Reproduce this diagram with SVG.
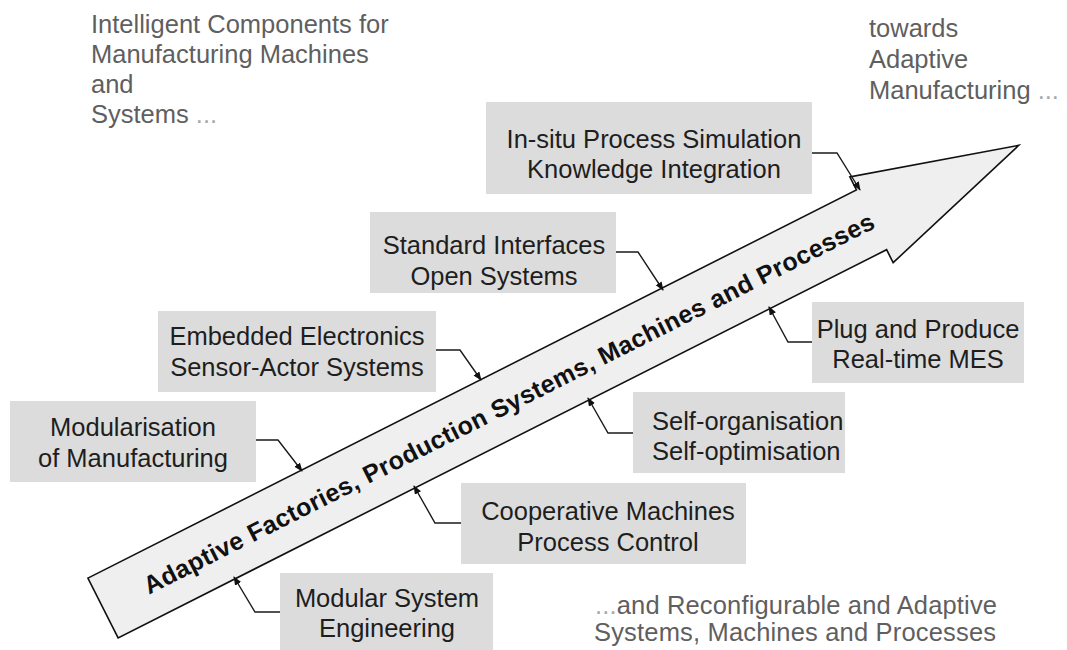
<svg xmlns="http://www.w3.org/2000/svg" width="1067" height="650" viewBox="0 0 1067 650">
<style>
.box{fill:#dcdcdc}
.bt{font-family:"Liberation Sans",Arial,sans-serif;font-size:25.5px;fill:#1e1e1e;text-anchor:middle}
.btl{font-family:"Liberation Sans",Arial,sans-serif;font-size:25.5px;fill:#1e1e1e}
.gt{font-family:"Liberation Sans",Arial,sans-serif;font-size:25.5px;fill:#5f5f5f}
.dots{fill:#a8a8a8}
.con{fill:none;stroke:#1a1a1a;stroke-width:1.4}
.arr{fill:#efefef;stroke:#111;stroke-width:1.6;stroke-linejoin:miter}
.at{font-family:"Liberation Sans",Arial,sans-serif;font-size:25px;font-weight:bold;fill:#111}
</style>
<defs>
<marker id="ah" markerUnits="userSpaceOnUse" markerWidth="10" markerHeight="8" refX="8" refY="3.5" orient="auto">
<path d="M0,0 L9,3.5 L0,7 z" fill="#111"/>
</marker>
</defs>
<rect width="1067" height="650" fill="#ffffff"/>

<g id="title-left">
<text class="gt" x="91" y="33">Intelligent Components for</text>
<text class="gt" x="91" y="63">Manufacturing Machines</text>
<text class="gt" x="91" y="93">and</text>
<text class="gt" x="91" y="123">Systems <tspan class="dots">...</tspan></text>
</g>

<g id="title-right">
<text class="gt" x="869" y="37">towards</text>
<text class="gt" x="869" y="68">Adaptive</text>
<text class="gt" x="869" y="99">Manufacturing <tspan class="dots">...</tspan></text>
</g>

<g id="title-bottom">
<text class="gt" x="595" y="614" textLength="402"><tspan class="dots">...</tspan>and Reconfigurable and Adaptive</text>
<text class="gt" x="594" y="641" textLength="402">Systems, Machines and Processes</text>
</g>

<g id="main-arrow" transform="translate(103,608) rotate(-26.8)">
<polygon class="arr" points="0,-33.5 861,-33.5 861,-48 1026,0 861,48 861,33.5 0,33.5"/>
<text class="at" x="47" y="9" textLength="815">Adaptive Factories, Production Systems, Machines and Processes</text>
</g>

<g id="connectors">
<polyline class="con" points="812,153 837,153 860,190" marker-end="url(#ah)"/>
<polyline class="con" points="616,252 638,252 663,290" marker-end="url(#ah)"/>
<polyline class="con" points="436,350 460,350 481,380" marker-end="url(#ah)"/>
<polyline class="con" points="256,440 278,440 302,471" marker-end="url(#ah)"/>
<polyline class="con" points="280,612 255,612 234,577" marker-end="url(#ah)"/>
<polyline class="con" points="461,523 435,523 414,486" marker-end="url(#ah)"/>
<polyline class="con" points="633,433 608,433 588,398" marker-end="url(#ah)"/>
<polyline class="con" points="812,342 788,342 769,307" marker-end="url(#ah)"/>
</g>

<g id="n-insitu">
<rect class="box" x="486" y="102" width="326" height="92"/>
<text class="bt" x="654" y="148">In-situ Process Simulation</text>
<text class="bt" x="654" y="178">Knowledge Integration</text>
</g>

<g id="n-standard">
<rect class="box" x="370" y="212" width="246" height="81"/>
<text class="bt" x="494" y="254">Standard Interfaces</text>
<text class="bt" x="494" y="285">Open Systems</text>
</g>

<g id="n-embedded">
<rect class="box" x="158" y="311" width="278" height="81"/>
<text class="bt" x="297" y="345">Embedded Electronics</text>
<text class="bt" x="297" y="376">Sensor-Actor Systems</text>
</g>

<g id="n-modularisation">
<rect class="box" x="10" y="401" width="246" height="81"/>
<text class="bt" x="133" y="436">Modularisation</text>
<text class="bt" x="133" y="467">of Manufacturing</text>
</g>

<g id="n-modular-system">
<rect class="box" x="280" y="573" width="213" height="80"/>
<text class="bt" x="387" y="607">Modular System</text>
<text class="bt" x="387" y="637">Engineering</text>
</g>

<g id="n-cooperative">
<rect class="box" x="461" y="483" width="285" height="81"/>
<text class="bt" x="608" y="520">Cooperative Machines</text>
<text class="bt" x="608" y="551">Process Control</text>
</g>

<g id="n-selforg">
<rect class="box" x="633" y="392" width="212" height="81"/>
<text class="btl" x="652" y="430">Self-organisation</text>
<text class="btl" x="652" y="460">Self-optimisation</text>
</g>

<g id="n-plug">
<rect class="box" x="812" y="302" width="212" height="81"/>
<text class="bt" x="918" y="338">Plug and Produce</text>
<text class="bt" x="918" y="368">Real-time MES</text>
</g>
</svg>
